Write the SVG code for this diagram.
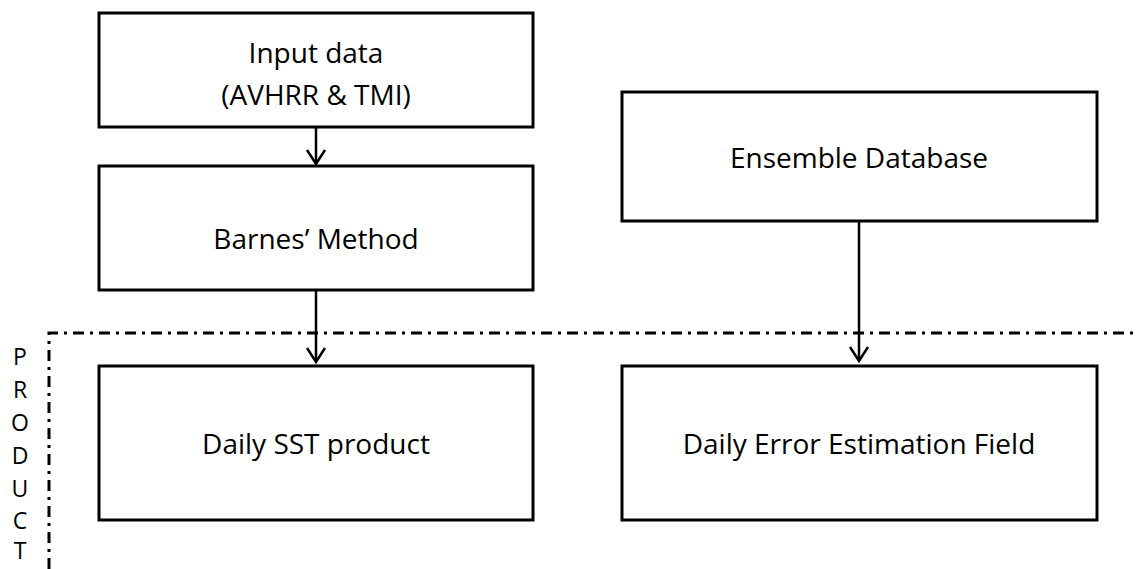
<svg xmlns="http://www.w3.org/2000/svg" width="1139" height="569" viewBox="0 0 1139 569">
<style>
.box{fill:#fff;stroke:#000;stroke-width:3}
.t{font-family:"Open Sans","Liberation Sans",sans-serif;font-size:28px;fill:#000;text-anchor:middle;dominant-baseline:central}
.p{font-family:"Open Sans","Liberation Sans",sans-serif;font-size:23px;fill:#000;text-anchor:middle;dominant-baseline:central}
.c{stroke:#000;stroke-width:2.5;fill:none}
.d{stroke:#000;stroke-width:3;fill:none;stroke-dasharray:11,6,3,6}
</style>
<defs>
<marker id="ah" markerWidth="20" markerHeight="22" refX="16" refY="11" orient="auto" markerUnits="userSpaceOnUse" viewBox="0 0 20 22">
<path d="M2,2 L16,11 L2,20" fill="none" stroke="#000" stroke-width="2.5"/>
</marker>
</defs>
<g id="boundary">
<path class="d" d="M49,569 L49,333 L1139,333"/>
</g>
<g id="product-label">
<text class="p" x="20" y="356">P</text>
<text class="p" x="20" y="389">R</text>
<text class="p" x="20" y="422">O</text>
<text class="p" x="20" y="455">D</text>
<text class="p" x="20" y="488">U</text>
<text class="p" x="20" y="520">C</text>
<text class="p" x="20" y="550">T</text>
</g>
<g id="input">
<rect class="box" x="99" y="13" width="434" height="114"/>
<text class="t" x="316" y="52">Input data</text>
<text class="t" x="316" y="94">(AVHRR &amp; TMI)</text>
</g>
<g id="barnes">
<rect class="box" x="99" y="166" width="434" height="124"/>
<text class="t" x="316" y="238">Barnes’ Method</text>
</g>
<g id="ensemble">
<rect class="box" x="622" y="92" width="475" height="129"/>
<text class="t" x="859" y="157">Ensemble Database</text>
</g>
<g id="sst">
<rect class="box" x="99" y="366" width="434" height="154"/>
<text class="t" x="316" y="443">Daily SST product</text>
</g>
<g id="error">
<rect class="box" x="622" y="366" width="475" height="154"/>
<text class="t" x="859" y="443">Daily Error Estimation Field</text>
</g>
<g id="connectors">
<line class="c" x1="316" y1="127" x2="316" y2="164" marker-end="url(#ah)"/>
<line class="c" x1="316" y1="290" x2="316" y2="362" marker-end="url(#ah)"/>
<line class="c" x1="859" y1="221" x2="859" y2="361" marker-end="url(#ah)"/>
</g>
</svg>
